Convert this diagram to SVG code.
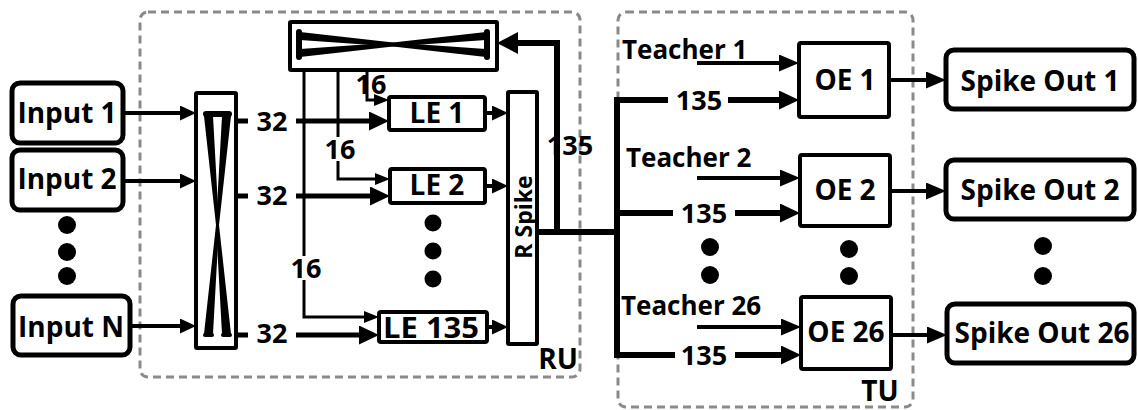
<svg xmlns="http://www.w3.org/2000/svg" width="1138" height="410" viewBox="0 0 1138 410">
<style>
text{font-family:"Open Sans","Liberation Sans",sans-serif;font-weight:700;fill:#000}
.box{fill:#fff;stroke:#000;stroke-width:4}
.rbox{fill:#fff;stroke:#000;stroke-width:5}
.dash{fill:none;stroke:#8a8a8a;stroke-width:3;stroke-dasharray:8 5}
.ln{fill:none;stroke:#000}
.dot{fill:#000}
.lbl{font-size:28px;text-anchor:middle}
.num{font-size:27px;text-anchor:middle}
.tch{font-size:26px}
</style>
<defs>
<marker id="a1" markerUnits="userSpaceOnUse" markerWidth="17" markerHeight="16" refX="8" refY="7.5" orient="auto"><path d="M0,0 L16,7.5 L0,15 z"/></marker>
<marker id="a2" markerUnits="userSpaceOnUse" markerWidth="21" markerHeight="20" refX="10" refY="9.5" orient="auto"><path d="M0,0 L20,9.5 L0,19 z"/></marker>
<marker id="a3" markerUnits="userSpaceOnUse" markerWidth="16" markerHeight="13" refX="7.5" refY="6" orient="auto"><path d="M0,0 L15,6 L0,12 z"/></marker>
<marker id="a4" markerUnits="userSpaceOnUse" markerWidth="22" markerHeight="23" refX="10.5" refY="11" orient="auto"><path d="M0,0 L21,11 L0,22 z"/></marker>
<marker id="a5" markerUnits="userSpaceOnUse" markerWidth="21" markerHeight="18" refX="10" refY="8.5" orient="auto"><path d="M0,0 L20,8.5 L0,17 z"/></marker>
</defs>

<g id="RU-region">
<rect class="dash" x="140" y="12" width="440" height="365" rx="8"/>
<text class="lbl" x="558" y="369">RU</text>
</g>
<g id="TU-region">
<rect class="dash" x="618" y="12" width="295" height="395" rx="8"/>
<text class="lbl" x="880" y="401">TU</text>
</g>

<g id="connectors">
<path class="ln" stroke-width="4" marker-end="url(#a1)" d="M123,113 H188"/>
<path class="ln" stroke-width="4" marker-end="url(#a1)" d="M123,181 H188"/>
<path class="ln" stroke-width="4" marker-end="url(#a1)" d="M130,326 H188"/>
<path class="ln" stroke-width="5" d="M236,121 H248 M236,196 H248 M236,335 H248"/>
<path class="ln" stroke-width="5" marker-end="url(#a2)" d="M296,121 H379"/>
<path class="ln" stroke-width="5" marker-end="url(#a2)" d="M296,196 H380"/>
<path class="ln" stroke-width="5" marker-end="url(#a2)" d="M296,335 H369"/>
<path class="ln" stroke-width="3" marker-end="url(#a3)" d="M367,70 V100 H381.5"/>
<path class="ln" stroke-width="3" d="M338,70 V137"/>
<path class="ln" stroke-width="3" marker-end="url(#a3)" d="M338,161 V179 H382.5"/>
<path class="ln" stroke-width="3" d="M304,70 V256"/>
<path class="ln" stroke-width="3" marker-end="url(#a3)" d="M304,280 V317 H371.5"/>
<path class="ln" stroke-width="4" marker-end="url(#a1)" d="M485,113 H500"/>
<path class="ln" stroke-width="4" marker-end="url(#a1)" d="M485,186 H500"/>
<path class="ln" stroke-width="4" marker-end="url(#a1)" d="M487,327 H500"/>
<path class="ln" stroke-width="6" marker-end="url(#a4)" d="M557,232 V43 H507.5"/>
<path class="ln" stroke-width="6" d="M537,232 H617"/>
<path class="ln" stroke-width="6" d="M668,100 H617 V355 H675 M617,213 H673"/>
<path class="ln" stroke-width="6" marker-end="url(#a2)" d="M728,100 H789"/>
<path class="ln" stroke-width="6" marker-end="url(#a2)" d="M735,213 H790"/>
<path class="ln" stroke-width="6" marker-end="url(#a2)" d="M735,355 H791"/>
<path class="ln" stroke-width="4" marker-end="url(#a5)" d="M697,63 H789"/>
<path class="ln" stroke-width="4" marker-end="url(#a5)" d="M697,178 H790"/>
<path class="ln" stroke-width="4" marker-end="url(#a5)" d="M697,327 H791"/>
<path class="ln" stroke-width="4" marker-end="url(#a5)" d="M889,80 H936"/>
<path class="ln" stroke-width="4" marker-end="url(#a5)" d="M890,191 H936"/>
<path class="ln" stroke-width="4" marker-end="url(#a5)" d="M891,335 H937"/>
<text class="num" x="272" y="131">32</text>
<text class="num" x="272" y="205">32</text>
<text class="num" x="272" y="343">32</text>
<text class="num" x="371" y="94">16</text>
<text class="num" x="340" y="159">16</text>
<text class="num" x="306" y="278">16</text>
<text class="num" font-size="28" x="570" y="155">135</text>
<text class="num" font-size="28" x="699" y="110">135</text>
<text class="num" font-size="28" x="704" y="223">135</text>
<text class="num" font-size="28" x="704" y="365">135</text>
<text class="tch" x="622" y="59">Teacher 1</text>
<text class="tch" x="626" y="167">Teacher 2</text>
<text class="tch" x="621" y="315">Teacher 26</text>
<circle class="dot" cx="710" cy="247" r="9"/>
<circle class="dot" cx="710" cy="275" r="9"/>
</g>

<g id="input1"><rect class="rbox" x="12" y="83" width="111" height="60" rx="8"/><text class="lbl" x="67" y="123">Input 1</text></g>
<g id="input2"><rect class="rbox" x="12" y="150" width="111" height="60" rx="8"/><text class="lbl" x="67" y="189">Input 2</text></g>
<g id="input-dots"><circle class="dot" cx="67" cy="225" r="9"/><circle class="dot" cx="67" cy="252" r="9"/><circle class="dot" cx="67" cy="276" r="9"/></g>
<g id="inputN"><rect class="rbox" x="13" y="296" width="117" height="59" rx="8"/><text class="lbl" x="71" y="337">Input N</text></g>

<g id="crossbar-in">
<rect class="box" x="196" y="93" width="40" height="255" rx="1"/>
<polygon fill="#000" points="204,116 213,116 219,225 231,334 222,334 216,225"/>
<polygon fill="#000" points="222,116 231,116 219,225 213,334 204,334 216,225"/>
<path class="ln" stroke-width="6" stroke-linecap="round" d="M206,114 H229"/>
<path class="ln" stroke-width="4" stroke-linecap="round" d="M205,335 H212 M223,335 H230"/>
</g>

<g id="crossbar-top">
<rect class="box" x="290" y="22" width="207" height="48" rx="1"/>
<polygon fill="#000" points="300,32 393,42.5 486,49 486,57 393,46.5 300,40"/>
<polygon fill="#000" points="300,49 393,42.5 486,32 486,40 393,46.5 300,57"/>
<path class="ln" stroke-width="6" stroke-linecap="round" d="M299,32 V57 M487,32 V57"/>
</g>

<g id="le1"><rect class="box" x="389" y="97" width="96" height="33" rx="2"/><text class="lbl" font-size="26" x="437" y="123">LE 1</text></g>
<g id="le2"><rect class="box" x="390" y="169" width="95" height="34" rx="2"/><text class="lbl" font-size="26" x="437" y="195">LE 2</text></g>
<g id="le-dots"><circle class="dot" cx="433" cy="223" r="8.5"/><circle class="dot" cx="433" cy="251" r="8.5"/><circle class="dot" cx="433" cy="279" r="8.5"/></g>
<g id="le135"><rect class="box" x="379" y="312" width="108" height="30" rx="2"/><text class="lbl" font-size="28" x="431" y="338" textLength="96" lengthAdjust="spacingAndGlyphs" stroke="#fff" stroke-width="2" paint-order="stroke">LE 135</text></g>

<g id="rspike"><rect class="box" x="508" y="92" width="29" height="252" rx="1"/><text font-size="23" font-weight="600" text-anchor="middle" x="522" y="227" transform="rotate(-90 522 217)">R Spike</text></g>

<g id="oe1"><rect class="box" x="799" y="43" width="90" height="74" rx="2"/><text class="lbl" font-size="26" x="845" y="90">OE 1</text></g>
<g id="oe2"><rect class="box" x="800" y="155" width="90" height="71" rx="2"/><text class="lbl" font-size="26" x="845" y="200">OE 2</text></g>
<g id="oe-dots"><circle class="dot" cx="849" cy="249" r="9"/><circle class="dot" cx="849" cy="276" r="9"/></g>
<g id="oe26"><rect class="box" x="801" y="297" width="90" height="72" rx="2"/><text class="lbl" font-size="26" x="846" y="342">OE 26</text></g>

<g id="spike1"><rect class="rbox" x="946" y="50" width="188" height="59" rx="8"/><text class="lbl" font-size="28" x="1040" y="91">Spike Out 1</text></g>
<g id="spike2"><rect class="rbox" x="946" y="160" width="188" height="59" rx="8"/><text class="lbl" font-size="28" x="1040" y="200">Spike Out 2</text></g>
<g id="spike-dots"><circle class="dot" cx="1043" cy="246" r="9"/><circle class="dot" cx="1043" cy="276" r="9"/></g>
<g id="spike26"><rect class="rbox" x="947" y="304" width="187" height="59" rx="8"/><text class="lbl" font-size="28" x="1042" y="343">Spike Out 26</text></g>
</svg>
